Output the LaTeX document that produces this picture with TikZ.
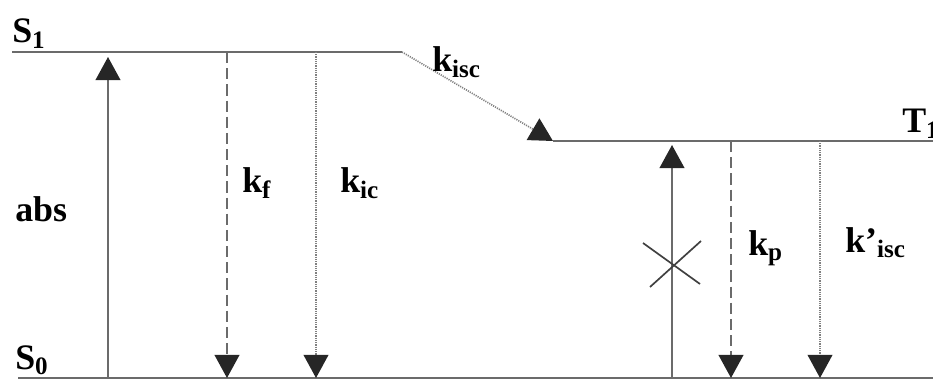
\documentclass[tikz,border=0pt]{standalone}
\usepackage{fontspec}
\setmainfont{Liberation Serif}
\usetikzlibrary{arrows.meta}
\tikzset{>={Triangle[width=6.2mm,length=5.8mm,color=black!85]}}
\tikzset{level/.style={line width=1.8pt, black!58},
  solidline/.style={line width=1.4pt, black!58},
  dashline/.style={line width=1.4pt, black!58, dash pattern=on 8pt off 3.5pt},
  dotline/.style={line width=1.2pt, black!50, dash pattern=on 0.8pt off 0.8pt}}

\begin{document}
\begin{tikzpicture}[x=0.025cm,y=-0.025cm,font=\fontsize{25.5}{30}\selectfont\bfseries]

  \useasboundingbox (0,0) rectangle (933,380);

  \coordinate (S1a) at (12,52);
  \coordinate (S1b) at (402,52);
  \coordinate (T1a) at (553,141);
  \coordinate (T1b) at (933,141);
  \coordinate (S0a) at (18,378);
  \coordinate (S0b) at (933,378);

  \draw[level] (S1a) -- (S1b);
  \draw[level] (T1a) -- (T1b);
  \draw[level] (S0a) -- (S0b);

  \coordinate (abs0) at (108,378);
  \coordinate (abs1) at (108,57);
  \coordinate (f1) at (227,52);
  \coordinate (f0) at (227,378);
  \coordinate (ic1) at (316,52);
  \coordinate (ic0) at (316,378);
  \coordinate (tabs0) at (672,378);
  \coordinate (tabs1) at (672,145);
  \coordinate (p1) at (731,141);
  \coordinate (p0) at (731,378);
  \coordinate (isc1) at (820,141);
  \coordinate (isc0) at (820,378);

  \draw[solidline,->] (abs0) -- (abs1);
  \draw[dashline,->] (f1) -- (f0);
  \draw[dotline,->] (ic1) -- (ic0);
  \draw[dotline,->] (S1b) -- (T1a);
  \draw[solidline,->] (tabs0) -- (tabs1);
  \draw[dashline,->] (p1) -- (p0);
  \draw[dotline,->] (isc1) -- (isc0);

  \draw[line width=1.2pt, black!75] (643,243) -- (700,284);
  \draw[line width=1.2pt, black!75] (650,287) -- (701,241);

  \node[anchor=base west, inner sep=0pt] (lS1) at (12,43) {S\textsubscript{1}};
  \node[anchor=base west, inner sep=0pt] (lS0) at (15,369) {S\textsubscript{0}};
  \node[anchor=base west, inner sep=0pt] (lT1) at (902,133) {T\textsubscript{1}};
  \node[anchor=base west, inner sep=0pt] (labs) at (15,222) {abs};
  \node[anchor=base west, inner sep=0pt] (lkf) at (242,193) {k\textsubscript{f}};
  \node[anchor=base west, inner sep=0pt] (lkic) at (340,193) {k\textsubscript{ic}};
  \node[anchor=base west, inner sep=0pt] (lkisc) at (432,72) {k\textsubscript{isc}};
  \node[anchor=base west, inner sep=0pt] (lkp) at (748,255) {k\textsubscript{p}};
  \node[anchor=base west, inner sep=0pt] (lkisc2) at (845,252) {k’\textsubscript{isc}};

\end{tikzpicture}
\end{document}
